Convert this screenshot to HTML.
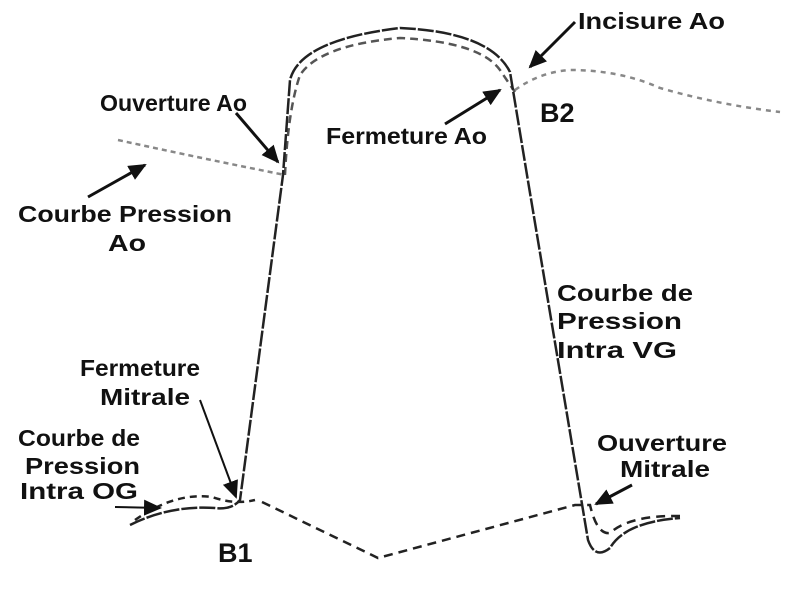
<!DOCTYPE html>
<html><head><meta charset="utf-8"><style>
html,body{margin:0;padding:0;background:#fff;}
svg{display:block;}
text{font-family:"Liberation Sans",Arial,sans-serif;font-weight:bold;fill:#111;font-size:23px;}
</style></head><body>
<svg width="800" height="589" viewBox="0 0 800 589" xmlns="http://www.w3.org/2000/svg">
<defs>
<marker id="ahb" markerWidth="18" markerHeight="16" refX="16" refY="8" orient="auto" markerUnits="userSpaceOnUse">
<path d="M0,0 L18,8 L0,16 z" fill="#111"/></marker>
</defs>
<path d="M118,140 Q200,158 285,175" fill="none" stroke="#888" stroke-width="2.5" stroke-dasharray="5,4"/>
<path d="M285,175 Q288,110 300,75 Q320,45 400,38 Q480,42 500,70 Q510,85 515,92" fill="none" stroke="#555" stroke-width="2.5" stroke-dasharray="8,5"/>
<path d="M515,90 Q540,72 570,70 Q620,70 660,88 Q720,105 780,112" fill="none" stroke="#888" stroke-width="2.5" stroke-dasharray="5,5"/>
<path d="M130,525 Q170,505 215,508 Q232,510 240,500 L283,175 L290,80 Q300,40 400,28 Q490,32 510,72 L527,175 L588,540 Q595,560 610,548 Q625,522 680,518" fill="none" stroke="#222" stroke-width="2.5" stroke-dasharray="16,2"/>
<path d="M135,520 Q175,492 212,497 Q235,505 255,500" fill="none" stroke="#222" stroke-width="2.5" stroke-dasharray="7,5"/>
<path d="M262,502 L378,558 L575,505 L590,505 Q597,535 610,533 Q630,515 680,516" fill="none" stroke="#222" stroke-width="2.5" stroke-dasharray="9,6"/>
<line x1="236" y1="113" x2="278" y2="162" stroke="#111" stroke-width="3" marker-end="url(#ahb)"/>
<line x1="575" y1="22" x2="530" y2="67" stroke="#111" stroke-width="3" marker-end="url(#ahb)"/>
<line x1="445" y1="124" x2="500" y2="90" stroke="#111" stroke-width="3" marker-end="url(#ahb)"/>
<line x1="88" y1="197" x2="145" y2="165" stroke="#111" stroke-width="3" marker-end="url(#ahb)"/>
<line x1="200" y1="400" x2="236" y2="497" stroke="#111" stroke-width="2" marker-end="url(#ahb)"/>
<line x1="115" y1="507" x2="160" y2="508" stroke="#111" stroke-width="2" marker-end="url(#ahb)"/>
<line x1="632" y1="485" x2="596" y2="504" stroke="#111" stroke-width="3" marker-end="url(#ahb)"/>
<text x="100" y="111" textLength="147" lengthAdjust="spacingAndGlyphs">Ouverture Ao</text>
<text x="578" y="29" textLength="147" lengthAdjust="spacingAndGlyphs">Incisure Ao</text>
<text x="540" y="122" style="font-size:27px">B2</text>
<text x="326" y="144" textLength="161" lengthAdjust="spacingAndGlyphs">Fermeture Ao</text>
<text x="18" y="222" textLength="214" lengthAdjust="spacingAndGlyphs">Courbe Pression</text>
<text x="108" y="251" textLength="38" lengthAdjust="spacingAndGlyphs">Ao</text>
<text x="557" y="301" textLength="136" lengthAdjust="spacingAndGlyphs">Courbe de</text>
<text x="557" y="329" textLength="125" lengthAdjust="spacingAndGlyphs">Pression</text>
<text x="557" y="358" textLength="120" lengthAdjust="spacingAndGlyphs">Intra VG</text>
<text x="80" y="376" textLength="120" lengthAdjust="spacingAndGlyphs">Fermeture</text>
<text x="100" y="405" textLength="90" lengthAdjust="spacingAndGlyphs">Mitrale</text>
<text x="18" y="446" textLength="122" lengthAdjust="spacingAndGlyphs">Courbe de</text>
<text x="25" y="474" textLength="115" lengthAdjust="spacingAndGlyphs">Pression</text>
<text x="20" y="499" textLength="118" lengthAdjust="spacingAndGlyphs">Intra OG</text>
<text x="597" y="451" textLength="130" lengthAdjust="spacingAndGlyphs">Ouverture</text>
<text x="620" y="477" textLength="90" lengthAdjust="spacingAndGlyphs">Mitrale</text>
<text x="218" y="562" style="font-size:27px">B1</text>
</svg>
</body></html>
